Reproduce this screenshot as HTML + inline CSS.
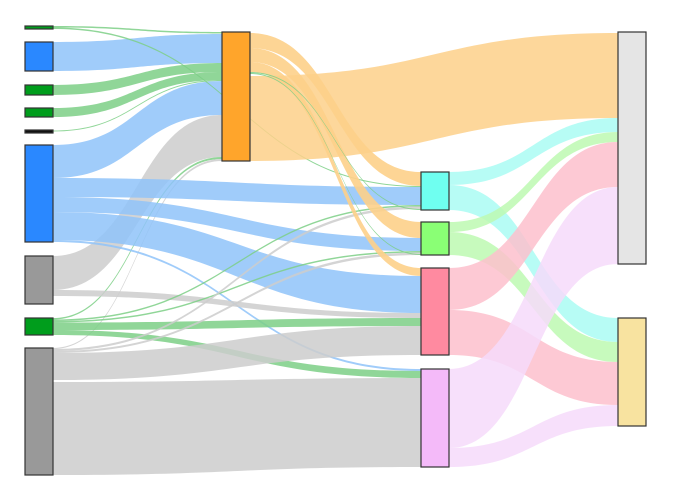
<!DOCTYPE html>
<html><head><meta charset="utf-8"><style>body{margin:0;background:#fff}svg{display:block}</style></head>
<body>
<svg id="s" width="673" height="500" xmlns="http://www.w3.org/2000/svg"></svg>
<script>
const s=document.getElementById('s');
const B='#8fc3f9',G='#7ccf86',Y='#cccccc',O='#fdd08a',C='#aafcf3',L='#bdf9b2',P='#fdc0cc',V='#f6dafa';
function band(x0,a0,b0,x1,a1,b1,c,op){
 const m=(x0+x1)/2;
 const d=`M${x0},${a0}C${m},${a0} ${m},${a1} ${x1},${a1}L${x1},${b1}C${m},${b1} ${m},${b0} ${x0},${b0}Z`;
 const p=document.createElementNS('http://www.w3.org/2000/svg','path');
 p.setAttribute('d',d);p.setAttribute('fill',c);p.setAttribute('fill-opacity',op||0.85);s.appendChild(p);
}
const X1=53,X2=222,X2b=250,X3=421,X3b=449,X4=618;
// col1 -> orange
band(X1,26,27.5,X2,32,33.5,G);
band(X1,42,71,X2,34,63,B);
band(X1,85,95,X2,63,72,G);
band(X1,108,117,X2,72,80,G);
band(X1,130.5,131.5,X2,80,81,G);
band(X1,145,178,X2,81,115,B);
band(X1,256,290,X2,115,157,Y);
band(X1,318,319.5,X2,157,159,G);
band(X1,348,349,X2,159,161,Y);
// col1 -> col3
band(X1,27.5,29,X3,186,187,G);
band(X1,178,197,X3,187,205,B);
band(X1,197,212,X3,238,251,B);
band(X1,212,240,X3,276,313,B);
band(X1,240,242,X3,369,371,B);
band(X1,290,296,X3,313,318,Y);
band(X1,319.5,321,X3,205,206.5,G);
band(X1,321,322.5,X3,251,252.5,G);
band(X1,322.5,330,X3,318,326,G);
band(X1,330,335,X3,371,378,G);
band(X1,349,351,X3,206.5,209,Y);
band(X1,351,353,X3,252.5,255,Y);
band(X1,353,380,X3,326,355,Y);
band(X1,382,475,X3,378,467,Y);
// orange -> col3 / col4
band(X2b,76,161,X4,33,118,O);
band(X2b,33,48,X3,172,186,O,0.9);
band(X2b,48,62,X3,222,238,O,0.9);
band(X2b,62,72,X3,268,276,O,0.9);
band(X2b,72,73,X3,209,210,G);
band(X2b,73,74,X3,254,255,G);
// col3 -> col4
band(X3b,172,185,X4,118,132,C);
band(X3b,185,210,X4,318,342,C);
band(X3b,222,232,X4,132,142,L);
band(X3b,232,255,X4,342,362,L);
band(X3b,268,310,X4,142,187,P);
band(X3b,310,355,X4,362,405,P);
band(X3b,369,448,X4,187,264,V);
band(X3b,448,467,X4,405,426,V);
function node(x,y0,y1,c){
 const r=document.createElementNS('http://www.w3.org/2000/svg','rect');
 r.setAttribute('x',x);r.setAttribute('y',y0);r.setAttribute('width',28);r.setAttribute('height',y1-y0);
 r.setAttribute('fill',c);r.setAttribute('stroke','#333');r.setAttribute('stroke-width',1.2);s.appendChild(r);
}
node(25,26,29,'#009d1c');node(25,42,71,'#2a88ff');node(25,85,95,'#009d1c');node(25,108,117,'#009d1c');
node(25,130,133,'#111');node(25,145,242,'#2a88ff');node(25,256,304,'#999');node(25,318,335,'#009d1c');
node(25,348,475,'#999');
node(222,32,161,'#ffa52b');
node(421,172,210,'#6ffff0');node(421,222,255,'#8aff75');node(421,268,355,'#ff8aa0');node(421,369,467,'#f4baf9');
node(618,32,264,'#e5e5e5');node(618,318,426,'#f8e3a0');
</script>
</body></html>
